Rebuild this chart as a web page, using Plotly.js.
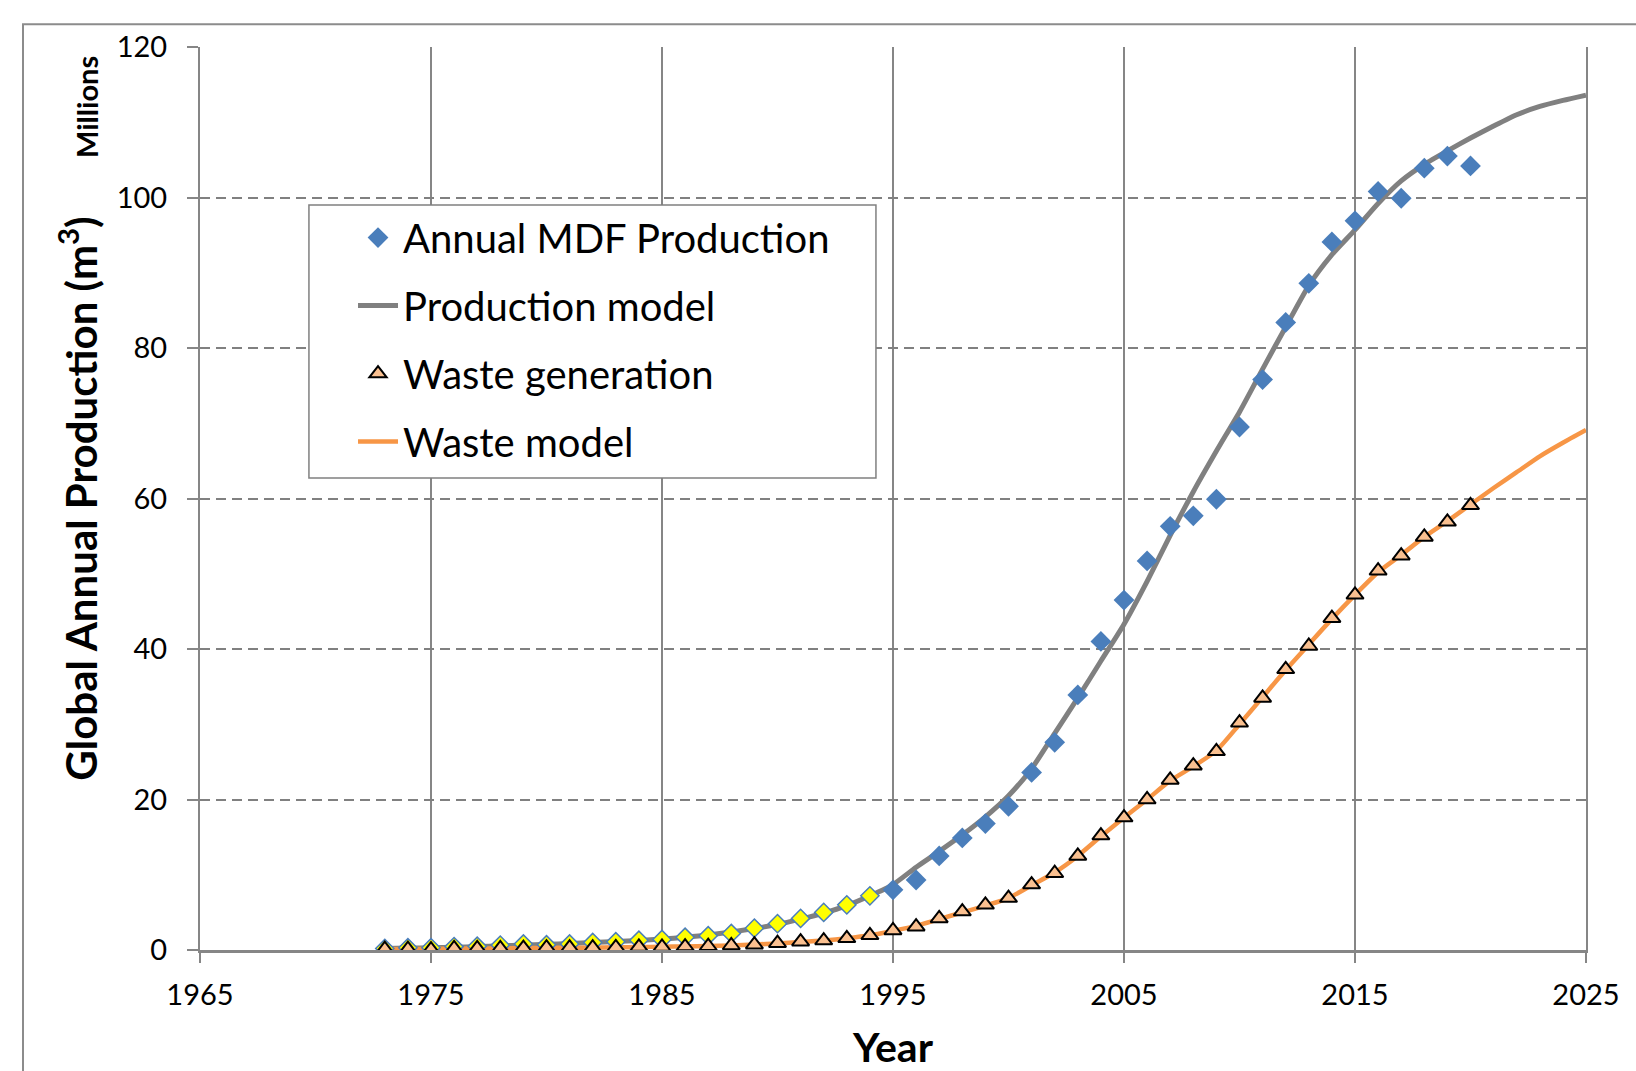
<!DOCTYPE html>
<html>
<head>
<meta charset="utf-8">
<script src="https://cdn.plot.ly/plotly-3.0.1.min.js"></script>
<style>
  html, body { margin: 0; padding: 0; background: #ffffff; }
  #chart { width: 1636px; height: 1071px; }
</style>
</head>
<body>
<div id="chart"></div>
<script>
// ---------- data ----------
// Annual MDF production, early estimated years (yellow diamonds), millions m3
const prodEarlyYears = [1973,1974,1975,1976,1977,1978,1979,1980,1981,1982,1983,1984,1985,1986,1987,1988,1989,1990,1991,1992,1993,1994];
const prodEarly      = [0.2,0.3,0.3,0.45,0.5,0.65,0.8,0.7,0.8,1.0,1.1,1.3,1.4,1.7,1.9,2.2,2.9,3.5,4.2,5.0,6.0,7.2];

// Annual MDF production, reported years (blue diamonds)
const prodYears = [1995,1996,1997,1998,1999,2000,2001,2002,2003,2004,2005,2006,2007,2008,2009,2010,2011,2012,2013,2014,2015,2016,2017,2018,2019,2020];
const prodValues = [8.0,9.3,12.5,14.9,16.8,19.1,23.6,27.6,33.9,41.0,46.5,51.7,56.3,57.7,59.9,69.5,75.8,83.4,88.6,94.1,96.9,100.8,99.9,103.9,105.5,104.2];

// Waste generation (triangles)
const wasteYears = [1973,1974,1975,1976,1977,1978,1979,1980,1981,1982,1983,1984,1985,1986,1987,1988,1989,1990,1991,1992,1993,1994,1995,1996,1997,1998,1999,2000,2001,2002,2003,2004,2005,2006,2007,2008,2009,2010,2011,2012,2013,2014,2015,2016,2017,2018,2019,2020];
const wasteValues = [0.1,0.1,0.05,0.2,0.2,0.2,0.25,0.3,0.3,0.3,0.35,0.4,0.4,0.45,0.5,0.6,0.7,0.9,1.1,1.25,1.55,1.95,2.6,3.1,4.2,5.1,6.0,6.9,8.7,10.2,12.5,15.2,17.6,20.0,22.6,24.5,26.4,30.2,33.5,37.3,40.4,44.1,47.2,50.4,52.4,54.9,56.9,59.1];

// Model curves
const modelYears = [1973,1974,1975,1976,1977,1978,1979,1980,1981,1982,1983,1984,1985,1986,1987,1988,1989,1990,1991,1992,1993,1994,1995,1996,1997,1998,1999,2000,2001,2002,2003,2004,2005,2006,2007,2008,2009,2010,2011,2012,2013,2014,2015,2016,2017,2018,2019,2020,2021,2022,2023,2024,2025];
const prodModel = [0.2,0.25,0.3,0.37,0.45,0.55,0.65,0.75,0.87,1.0,1.12,1.27,1.45,1.7,2.0,2.4,2.85,3.4,4.1,4.9,5.9,7.2,8.7,11.0,13.1,15.3,17.7,20.5,24.1,28.8,33.5,38.4,43.3,49.0,55.1,60.9,66.3,71.5,77.2,82.8,88.3,92.4,95.7,99.2,102.2,104.4,106.2,107.9,109.5,111.0,112.1,112.9,113.6];
const wasteModel = [0.1,0.12,0.14,0.17,0.2,0.22,0.25,0.28,0.3,0.33,0.36,0.4,0.43,0.47,0.52,0.6,0.72,0.88,1.05,1.25,1.55,1.95,2.55,3.2,4.1,5.0,5.9,6.9,8.6,10.3,12.5,15.1,17.6,20.0,22.5,24.4,26.5,30.0,33.6,37.2,40.6,44.0,47.2,50.2,52.5,54.9,57.0,59.2,61.4,63.5,65.6,67.4,69.1];

// Axis ticks
const xTicks = [1965,1975,1985,1995,2005,2015,2025];
const yTicks = [0,20,40,60,80,100,120];

// Labels
const seriesNames = ['Annual MDF Production','Production model','Waste generation','Waste model'];
const xTitle = 'Year';
const yTitle = 'Global Annual Production (m<sup>3</sup>)';
const unitLabel = 'Millions';

// ---------- styling ----------
const FONT = 'Lato, Carlito, Calibri, sans-serif';
const GRID = '#868686';
const BLUE = '#4A7EBB';
const ORANGE = '#F79646';
const TRI = '#FAC090';

const traces = [
  {
    x: modelYears, y: prodModel, name: seriesNames[1], type: 'scatter', mode: 'lines',
    line: {color: '#808080', width: 5, shape: 'spline', smoothing: 0.6},
    legendrank: 2, legendgroup: 'g2'
  },
  {
    x: modelYears, y: wasteModel, name: seriesNames[3], type: 'scatter', mode: 'lines',
    line: {color: ORANGE, width: 4.5, shape: 'spline', smoothing: 0.6},
    legendrank: 4, legendgroup: 'g4'
  },
  {
    x: prodEarlyYears, y: prodEarly, name: seriesNames[0] + ' (estimated)', type: 'scatter', mode: 'markers',
    marker: {symbol: 'diamond', size: 14, color: '#FFFF00', line: {color: BLUE, width: 1.5}},
    showlegend: false
  },
  {
    x: prodYears, y: prodValues, name: seriesNames[0], type: 'scatter', mode: 'markers',
    marker: {symbol: 'diamond', size: 16, color: BLUE, line: {width: 0}},
    legendrank: 1, legendgroup: 'g1'
  },
  {
    x: wasteYears, y: wasteValues, name: seriesNames[2], type: 'scatter', mode: 'markers',
    marker: {symbol: 'triangle-up', size: 15, color: TRI, line: {color: '#000000', width: 2}},
    legendrank: 3, legendgroup: 'g3'
  }
];

const layout = {
  width: 1636, height: 1071,
  margin: {l: 200, r: 50, t: 47, b: 121, pad: 0},
  paper_bgcolor: '#ffffff', plot_bgcolor: '#ffffff',
  font: {family: FONT, color: '#000000', size: 29},
  showlegend: true,
  legend: {
    x: 0.1104, y: 0.825, xanchor: 'left', yanchor: 'top',
    bgcolor: 'rgba(0,0,0,0)', bordercolor: '#808080', borderwidth: 0,
    font: {family: FONT, size: 40, color: '#000000'},
    tracegroupgap: 13, traceorder: 'grouped', itemwidth: 40
  },
  xaxis: {
    range: [1965, 2025], tickvals: xTicks, ticktext: xTicks.map(String),
    showgrid: true, gridcolor: GRID, gridwidth: 2,
    showline: true, linecolor: GRID, linewidth: 2.5, mirror: false,
    ticks: 'outside', ticklen: 10, tickcolor: GRID, tickwidth: 2,
    ticklabelstandoff: 8,
    zeroline: false,
    tickfont: {family: FONT, size: 29, color: '#000000'},
    title: {text: xTitle, font: {family: FONT, size: 41, color: '#000000', weight: 'bold'}, standoff: 26},
    automargin: false
  },
  yaxis: {
    range: [0, 120], tickvals: yTicks, ticktext: yTicks.map(String),
    showgrid: true, gridcolor: '#808080', gridwidth: 2, griddash: '10px,6px',
    showline: true, linecolor: GRID, linewidth: 2, mirror: true,
    ticks: 'outside', ticklen: 11, tickcolor: GRID, tickwidth: 2,
    ticklabelstandoff: 14,
    zeroline: false,
    tickfont: {family: FONT, size: 29, color: '#000000'},
    title: {text: yTitle, font: {family: FONT, size: 42, color: '#000000', weight: 'bold'}, standoff: 6},
    automargin: false
  },
  annotations: [
    {
      text: '<b>' + unitLabel + '</b>', xref: 'paper', yref: 'paper',
      x: -0.082, y: 0.934, xanchor: 'center', yanchor: 'middle', textangle: -90,
      showarrow: false, font: {family: FONT, size: 29, color: '#000000'}
    }
  ],
  shapes: [
    {
      type: 'rect', xref: 'paper', yref: 'paper',
      x0: -0.1277, x1: 1.5, y0: -0.5, y1: 1.0251,
      line: {color: '#8C8C8C', width: 2}, fillcolor: 'rgba(0,0,0,0)', layer: 'below'
    },
    {
      type: 'rect', xref: 'paper', yref: 'paper',
      x0: 0.0786, x1: 0.4877, y0: 0.5227, y1: 0.825,
      line: {color: '#808080', width: 1.5}, fillcolor: '#ffffff', layer: 'above'
    }
  ]
};

Plotly.newPlot('chart', traces, layout, {staticPlot: true, displayModeBar: false});
</script>
</body>
</html>
